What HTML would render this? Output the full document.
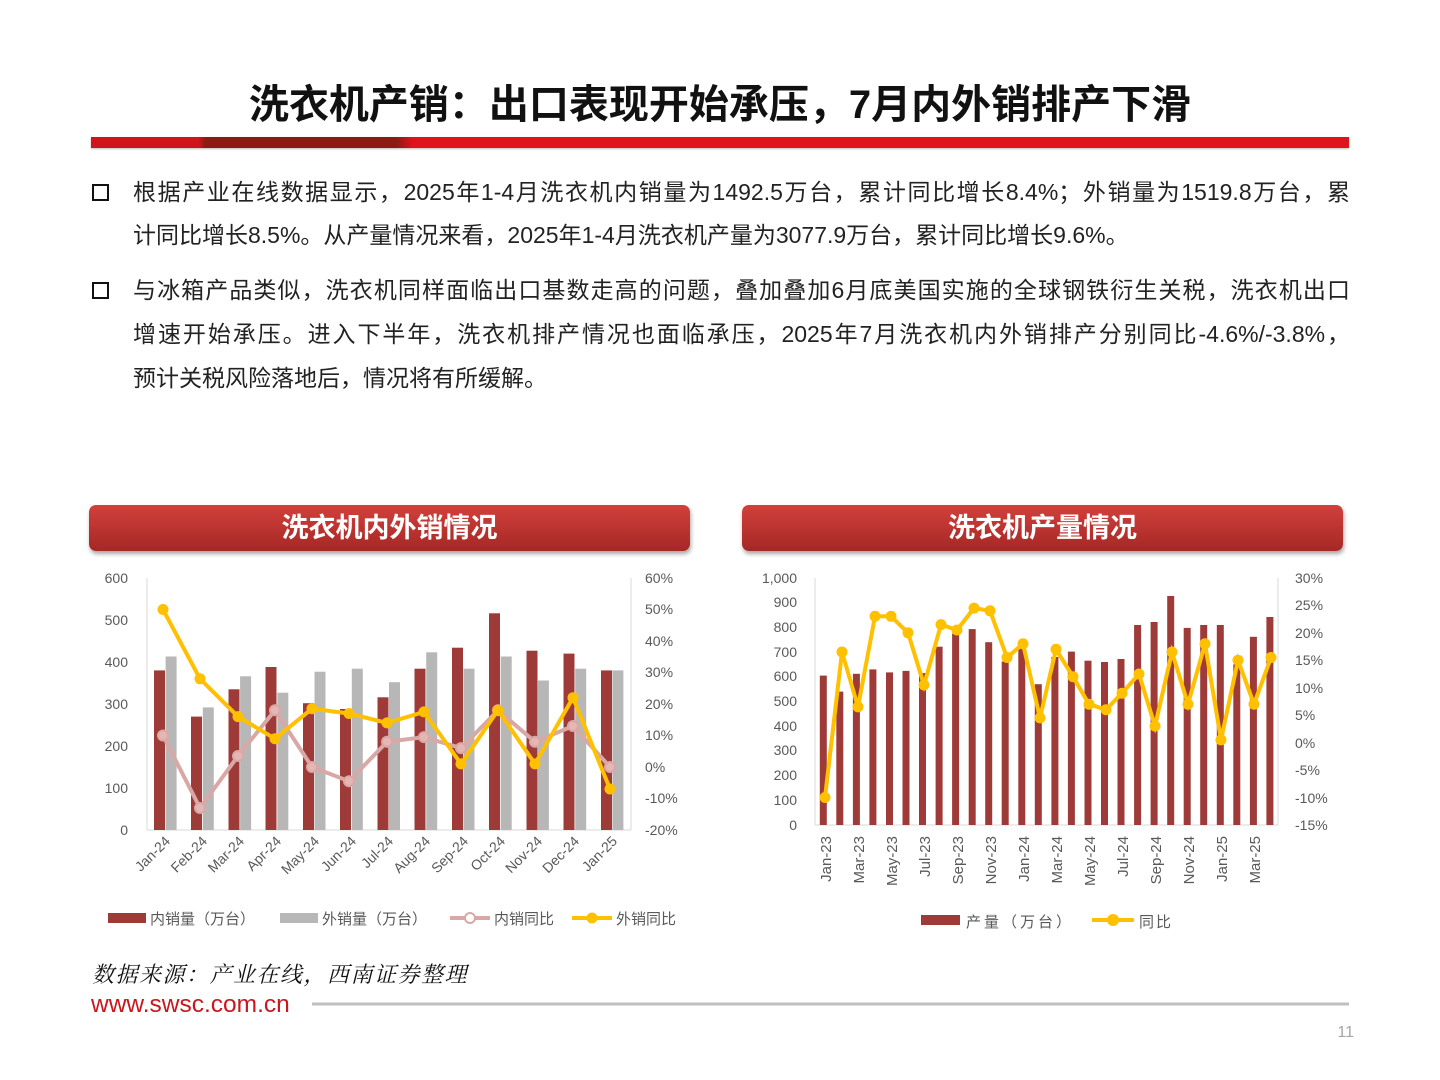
<!DOCTYPE html>
<html><head><meta charset="utf-8">
<style>
body{margin:0;background:#fff;}
#p{position:relative;width:1440px;height:1080px;overflow:hidden;font-family:"Liberation Sans","Noto Sans CJK SC",sans-serif;}
.t{position:absolute;left:0;width:1440px;top:72px;text-align:center;font-size:40px;font-weight:bold;color:#111;letter-spacing:0px;}
.bar{position:absolute;left:91px;top:137px;width:1258px;height:11px;background:linear-gradient(90deg,#d0141c 0,#d0141c 108px,#8b1a14 114px,#8b1a14 305px,#e0121d 322px,#e0121d 100%);box-shadow:0 1px 2px #bbb;}
.ln{position:absolute;left:133px;width:1217px;font-size:23px;color:#222;white-space:nowrap;text-align:justify;text-align-last:justify;line-height:30px;}
.ln.l{text-align-last:left;}
.sq{position:absolute;left:92px;width:13px;height:13px;border:2px solid #111;}
.hb{position:absolute;top:505px;height:46px;border-radius:7px;background:linear-gradient(#d2403c,#a52825);box-shadow:1px 3px 4px rgba(0,0,0,.35);color:#fff;font-size:27px;font-weight:bold;text-align:center;line-height:46px;}
svg text{font-family:"Liberation Sans","Noto Sans CJK SC",sans-serif;}
</style></head><body><div id="p">
<div class="t">洗衣机产销：出口表现开始承压，7月内外销排产下滑</div>
<div class="bar"></div>
<div class="sq" style="top:184px"></div>
<div class="ln" style="top:177px">根据产业在线数据显示，2025年1-4月洗衣机内销量为1492.5万台，累计同比增长8.4%；外销量为1519.8万台，累</div>
<div class="ln l" style="top:220px">计同比增长8.5%。从产量情况来看，2025年1-4月洗衣机产量为3077.9万台，累计同比增长9.6%。</div>
<div class="sq" style="top:282px"></div>
<div class="ln" style="top:275px">与冰箱产品类似，洗衣机同样面临出口基数走高的问题，叠加叠加6月底美国实施的全球钢铁衍生关税，洗衣机出口</div>
<div class="ln" style="top:319px">增速开始承压。进入下半年，洗衣机排产情况也面临承压，2025年7月洗衣机内外销排产分别同比-4.6%/-3.8%，</div>
<div class="ln l" style="top:363px">预计关税风险落地后，情况将有所缓解。</div>
<div class="hb" style="left:89px;width:601px">洗衣机内外销情况</div>
<div class="hb" style="left:742px;width:601px">洗衣机产量情况</div>

<svg width="1440" height="1080" style="position:absolute;left:0;top:0" xmlns="http://www.w3.org/2000/svg">
<g font-size="14" fill="#595959">
<line x1="147" y1="578" x2="147" y2="830" stroke="#d9d9d9"/>
<line x1="631" y1="578" x2="631" y2="830" stroke="#d9d9d9"/>
<line x1="147" y1="830" x2="631" y2="830" stroke="#d9d9d9"/>
<g text-anchor="end">
<text x="128" y="583">600</text><text x="128" y="625">500</text><text x="128" y="667">400</text><text x="128" y="709">300</text><text x="128" y="751">200</text><text x="128" y="793">100</text><text x="128" y="835">0</text>
</g>
<g>
<text x="645" y="583">60%</text><text x="645" y="614">50%</text><text x="645" y="646">40%</text><text x="645" y="677">30%</text><text x="645" y="709">20%</text><text x="645" y="740">10%</text><text x="645" y="772">0%</text><text x="645" y="803">-10%</text><text x="645" y="835">-20%</text>
</g>
<g fill="#9e3b38">
<rect x="154" y="670.4" width="11" height="159.6"/><rect x="191" y="716.6" width="11" height="113.4"/><rect x="228.5" y="689.3" width="11" height="140.7"/><rect x="265.5" y="667" width="11" height="163"/><rect x="303" y="703.2" width="11" height="126.8"/><rect x="340" y="709" width="11" height="121"/><rect x="377.5" y="697.3" width="11" height="132.7"/><rect x="414.5" y="668.7" width="11" height="161.3"/><rect x="452" y="647.7" width="11" height="182.3"/><rect x="489" y="613.3" width="11" height="216.7"/><rect x="526.5" y="650.7" width="11" height="179.3"/><rect x="563.5" y="653.6" width="11" height="176.4"/><rect x="601" y="670.4" width="11" height="159.6"/>
</g>
<g fill="#b7b7b7">
<rect x="165.6" y="656.5" width="11" height="173.5"/><rect x="202.8" y="707.4" width="11" height="122.6"/><rect x="240.1" y="676.3" width="11" height="153.7"/><rect x="277.3" y="692.7" width="11" height="137.3"/><rect x="314.5" y="671.7" width="11" height="158.3"/><rect x="351.8" y="668.7" width="11" height="161.3"/><rect x="389" y="682.2" width="11" height="147.8"/><rect x="426.2" y="652.3" width="11" height="177.7"/><rect x="463.5" y="668.7" width="11" height="161.3"/><rect x="500.7" y="656.5" width="11" height="173.5"/><rect x="537.9" y="680.5" width="11" height="149.5"/><rect x="575.2" y="668.7" width="11" height="161.3"/><rect x="612.4" y="670.4" width="11" height="159.6"/>
</g>
<polyline fill="none" stroke="#d9a8a6" stroke-width="4" points="163,735.5 200,808 238,756 275,710.3 312,767 349,781.2 387,741.8 424,737.1 461,748.1 498,710.3 535,741.8 573,726 610,767"/>
<g fill="#e4b6b4" stroke="#d9a8a6" stroke-width="2">
<circle cx="163" cy="735.5" r="5"/><circle cx="200" cy="808" r="5"/><circle cx="238" cy="756" r="5"/><circle cx="275" cy="710.3" r="5"/><circle cx="312" cy="767" r="5"/><circle cx="349" cy="781.2" r="5"/><circle cx="387" cy="741.8" r="5"/><circle cx="424" cy="737.1" r="5"/><circle cx="461" cy="748.1" r="5"/><circle cx="498" cy="710.3" r="5"/><circle cx="535" cy="741.8" r="5"/><circle cx="573" cy="726" r="5"/><circle cx="610" cy="767" r="5"/>
</g>
<polyline fill="none" stroke="#ffc000" stroke-width="4" points="163,609.5 200,678.8 238,716.6 275,738.7 312,708.7 349,713.5 387,722.9 424,711.9 461,763.9 498,710.3 535,763.9 573,697.7 610,789"/>
<g fill="#ffc000">
<circle cx="163" cy="609.5" r="5.5"/><circle cx="200" cy="678.8" r="5.5"/><circle cx="238" cy="716.6" r="5.5"/><circle cx="275" cy="738.7" r="5.5"/><circle cx="312" cy="708.7" r="5.5"/><circle cx="349" cy="713.5" r="5.5"/><circle cx="387" cy="722.9" r="5.5"/><circle cx="424" cy="711.9" r="5.5"/><circle cx="461" cy="763.9" r="5.5"/><circle cx="498" cy="710.3" r="5.5"/><circle cx="535" cy="763.9" r="5.5"/><circle cx="573" cy="697.7" r="5.5"/><circle cx="610" cy="789" r="5.5"/>
</g>
<g text-anchor="end">
<text transform="translate(171,842) rotate(-45)">Jan-24</text><text transform="translate(208,842) rotate(-45)">Feb-24</text><text transform="translate(245,842) rotate(-45)">Mar-24</text><text transform="translate(282,842) rotate(-45)">Apr-24</text><text transform="translate(320,842) rotate(-45)">May-24</text><text transform="translate(357,842) rotate(-45)">Jun-24</text><text transform="translate(394,842) rotate(-45)">Jul-24</text><text transform="translate(431,842) rotate(-45)">Aug-24</text><text transform="translate(469,842) rotate(-45)">Sep-24</text><text transform="translate(506,842) rotate(-45)">Oct-24</text><text transform="translate(543,842) rotate(-45)">Nov-24</text><text transform="translate(580,842) rotate(-45)">Dec-24</text><text transform="translate(618,842) rotate(-45)">Jan-25</text>
</g>
<rect x="108" y="913" width="38" height="10" fill="#9e3b38"/><text x="150" y="924" font-size="15">内销量（万台）</text>
<rect x="280" y="913" width="38" height="10" fill="#b7b7b7"/><text x="322" y="924" font-size="15">外销量（万台）</text>
<line x1="450" y1="918" x2="490" y2="918" stroke="#d9a8a6" stroke-width="4"/><circle cx="470" cy="918" r="5" fill="#fff" stroke="#d9a8a6" stroke-width="2"/><text x="494" y="924" font-size="15">内销同比</text>
<line x1="572" y1="918" x2="612" y2="918" stroke="#ffc000" stroke-width="4"/><circle cx="592" cy="918" r="5.5" fill="#ffc000"/><text x="616" y="924" font-size="15">外销同比</text>

<line x1="815" y1="578" x2="815" y2="825" stroke="#d9d9d9"/>
<line x1="1278" y1="578" x2="1278" y2="825" stroke="#d9d9d9"/>
<line x1="815" y1="825" x2="1278" y2="825" stroke="#d9d9d9"/>
<g text-anchor="end">
<text x="797" y="583">1,000</text><text x="797" y="607">900</text><text x="797" y="632">800</text><text x="797" y="657">700</text><text x="797" y="681">600</text><text x="797" y="706">500</text><text x="797" y="731">400</text><text x="797" y="755">300</text><text x="797" y="780">200</text><text x="797" y="805">100</text><text x="797" y="830">0</text>
</g>
<g>
<text x="1295" y="583">30%</text><text x="1295" y="610">25%</text><text x="1295" y="638">20%</text><text x="1295" y="665">15%</text><text x="1295" y="693">10%</text><text x="1295" y="720">5%</text><text x="1295" y="748">0%</text><text x="1295" y="775">-5%</text><text x="1295" y="803">-10%</text><text x="1295" y="830">-15%</text>
</g>
<g fill="#9e3b38">
<rect x="819.8" y="675.6" width="7" height="149.4"/><rect x="836.3" y="691.6" width="7" height="133.4"/><rect x="852.9" y="673.8" width="7" height="151.2"/><rect x="869.4" y="669.4" width="7" height="155.6"/><rect x="886" y="672.4" width="7" height="152.6"/><rect x="902.5" y="670.9" width="7" height="154.1"/><rect x="919" y="673.1" width="7" height="151.9"/><rect x="935.6" y="646.7" width="7" height="178.3"/><rect x="952.1" y="633.6" width="7" height="191.4"/><rect x="968.7" y="629.1" width="7" height="195.9"/><rect x="985.2" y="642.2" width="7" height="182.8"/><rect x="1001.7" y="661.5" width="7" height="163.5"/><rect x="1018.3" y="647.2" width="7" height="177.8"/><rect x="1034.8" y="684.2" width="7" height="140.8"/><rect x="1051.4" y="657" width="7" height="168"/><rect x="1067.9" y="651.6" width="7" height="173.4"/><rect x="1084.5" y="660.7" width="7" height="164.3"/><rect x="1101" y="662" width="7" height="163"/><rect x="1117.5" y="659" width="7" height="166"/><rect x="1134.1" y="625" width="7" height="200"/><rect x="1150.6" y="622" width="7" height="203"/><rect x="1167.2" y="596" width="7" height="229"/><rect x="1183.7" y="627.9" width="7" height="197.1"/><rect x="1200.2" y="625" width="7" height="200"/><rect x="1216.8" y="625" width="7" height="200"/><rect x="1233.3" y="664.4" width="7" height="160.6"/><rect x="1249.9" y="636.8" width="7" height="188.2"/><rect x="1266.4" y="617" width="7" height="208"/>
</g>
<polyline fill="none" stroke="#ffc000" stroke-width="4" points="825,797.5 842,652 858,706.9 875,616.3 891,616.3 908,632.8 924,685 941,624.6 957,630 974,608.1 990,610.8 1007,657.5 1023,643.8 1040,717.9 1056,649.3 1073,676.7 1089,704.2 1106,709.7 1122,693.2 1139,674 1155,726.1 1172,652 1188,704.2 1205,643.8 1221,739.9 1238,660.2 1254,704.2 1271,657.5"/>
<g fill="#ffc000">
<circle cx="825" cy="797.5" r="5.5"/><circle cx="842" cy="652" r="5.5"/><circle cx="858" cy="706.9" r="5.5"/><circle cx="875" cy="616.3" r="5.5"/><circle cx="891" cy="616.3" r="5.5"/><circle cx="908" cy="632.8" r="5.5"/><circle cx="924" cy="685" r="5.5"/><circle cx="941" cy="624.6" r="5.5"/><circle cx="957" cy="630" r="5.5"/><circle cx="974" cy="608.1" r="5.5"/><circle cx="990" cy="610.8" r="5.5"/><circle cx="1007" cy="657.5" r="5.5"/><circle cx="1023" cy="643.8" r="5.5"/><circle cx="1040" cy="717.9" r="5.5"/><circle cx="1056" cy="649.3" r="5.5"/><circle cx="1073" cy="676.7" r="5.5"/><circle cx="1089" cy="704.2" r="5.5"/><circle cx="1106" cy="709.7" r="5.5"/><circle cx="1122" cy="693.2" r="5.5"/><circle cx="1139" cy="674" r="5.5"/><circle cx="1155" cy="726.1" r="5.5"/><circle cx="1172" cy="652" r="5.5"/><circle cx="1188" cy="704.2" r="5.5"/><circle cx="1205" cy="643.8" r="5.5"/><circle cx="1221" cy="739.9" r="5.5"/><circle cx="1238" cy="660.2" r="5.5"/><circle cx="1254" cy="704.2" r="5.5"/><circle cx="1271" cy="657.5" r="5.5"/>
</g>
<g text-anchor="end" font-size="15">
<text transform="translate(831,836) rotate(-90)">Jan-23</text><text transform="translate(864,836) rotate(-90)">Mar-23</text><text transform="translate(897,836) rotate(-90)">May-23</text><text transform="translate(930,836) rotate(-90)">Jul-23</text><text transform="translate(963,836) rotate(-90)">Sep-23</text><text transform="translate(996,836) rotate(-90)">Nov-23</text><text transform="translate(1029,836) rotate(-90)">Jan-24</text><text transform="translate(1062,836) rotate(-90)">Mar-24</text><text transform="translate(1095,836) rotate(-90)">May-24</text><text transform="translate(1128,836) rotate(-90)">Jul-24</text><text transform="translate(1161,836) rotate(-90)">Sep-24</text><text transform="translate(1194,836) rotate(-90)">Nov-24</text><text transform="translate(1227,836) rotate(-90)">Jan-25</text><text transform="translate(1260,836) rotate(-90)">Mar-25</text>
</g>
<rect x="921" y="915" width="39" height="10" fill="#9e3b38"/><text x="966" y="927" font-size="15" letter-spacing="3">产量（万台）</text>
<line x1="1092" y1="920" x2="1134" y2="920" stroke="#ffc000" stroke-width="4"/><circle cx="1113" cy="920" r="6" fill="#ffc000"/><text x="1139" y="927" font-size="15" letter-spacing="2">同比</text>
</g>
<text x="92" y="982" font-size="22" font-style="italic" fill="#111" letter-spacing="1.5" style="font-family:'Noto Serif CJK SC',serif">数据来源：产业在线，西南证券整理</text>
<text x="91" y="1012" font-size="24.5" fill="#c8171e">www.swsc.com.cn</text>
<line x1="312" y1="1004" x2="1349" y2="1004" stroke="#bfbfbf" stroke-width="3"/>
<text x="1354" y="1037" font-size="16" fill="#a6a6a6" text-anchor="end">11</text>
</svg>
</div></body></html>
